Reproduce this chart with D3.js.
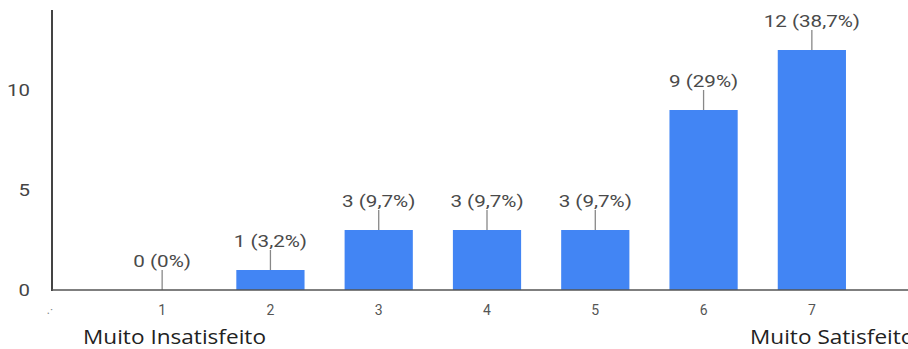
<!DOCTYPE html>
<html><head><meta charset="utf-8">
<script src="https://cdn.jsdelivr.net/npm/d3@7"></script>
<style>body{margin:0;background:#fff}svg{display:block}</style>
</head><body>
<script>
const categories = ["1","2","3","4","5","6","7"];
const counts = [0, 1, 3, 3, 3, 9, 12];
const pctLabels = ["0%","3,2%","9,7%","9,7%","9,7%","29%","38,7%"];
const yTicks = [0, 5, 10];
const endLabels = ["Muito Insatisfeito", "Muito Satisfeito"];

const W = 908, H = 349;
const svg = d3.select("body").append("svg").attr("width", W).attr("height", H);

const x = d3.scaleBand().domain(categories).range([108, 866]).paddingInner(0.37).paddingOuter(0.185);
const y = d3.scaleLinear().domain([0, 14]).range([290, 10]);

// bars
svg.selectAll("rect.bar").data(categories).enter().append("rect")
  .attr("x", d => x(d)).attr("width", x.bandwidth())
  .attr("y", (d,i) => y(counts[i])).attr("height", (d,i) => y(0) - y(counts[i]))
  .attr("fill", "#4285F4");

// leader lines
svg.selectAll("line.lead").data(categories).enter().append("line")
  .attr("x1", d => x(d) + x.bandwidth()/2).attr("x2", d => x(d) + x.bandwidth()/2)
  .attr("y1", (d,i) => y(counts[i]) - 20).attr("y2", (d,i) => y(counts[i]))
  .attr("stroke", "#888").attr("stroke-width", 1.3);

// value labels (horizontally stretched like the reference)
svg.selectAll("text.val").data(categories).enter().append("text")
  .attr("transform", (d,i) => `translate(${x(d) + x.bandwidth()/2},${y(counts[i]) - 23}) scale(1.25,1)`)
  .attr("text-anchor", "middle")
  .attr("font-family", "Roboto, Arial, sans-serif").attr("font-size", 16.5)
  .attr("fill", "#4a4a4a")
  .text((d,i) => `${counts[i]} (${pctLabels[i]})`);

// y axis
const yAxis = d3.axisLeft(y).tickValues(yTicks).tickSize(0).tickPadding(0);
const gy = svg.append("g").attr("transform", "translate(30,0)").call(yAxis);
gy.select(".domain").remove();
gy.selectAll("text").attr("font-family", "Roboto, Arial, sans-serif").attr("font-size", 17).attr("fill", "#444")
  .attr("transform", "scale(1.2,1)");
svg.append("line").attr("x1", 52).attr("x2", 52).attr("y1", 10).attr("y2", 291)
  .attr("stroke", "#444").attr("stroke-width", 2);

// x axis
const xAxis = d3.axisBottom(x).tickSize(0).tickPadding(15);
const gx = svg.append("g").attr("transform", "translate(0,290)").call(xAxis);
gx.select(".domain").remove();
gx.selectAll("text").attr("font-family", "Roboto, Arial, sans-serif").attr("font-size", 14).attr("fill", "#555");
svg.append("line").attr("x1", 52).attr("x2", 908).attr("y1", 290).attr("y2", 290)
  .attr("stroke", "#555").attr("stroke-width", 1.6);
svg.append("text").attr("x", 50).attr("y", 314).attr("font-size", 12).attr("fill", "#888")
  .attr("text-anchor", "middle").attr("font-family", "Roboto, Arial, sans-serif").text(".·");

// end labels
svg.append("text").attr("transform", "translate(83,344) scale(1.13,1)")
  .attr("font-family", "'Open Sans', 'Noto Sans', sans-serif").attr("font-size", 20).attr("fill", "#222")
  .text(endLabels[0]);
svg.append("text").attr("transform", "translate(750,344) scale(1.13,1)")
  .attr("font-family", "'Open Sans', 'Noto Sans', sans-serif").attr("font-size", 20).attr("fill", "#222")
  .text(endLabels[1]);
</script>
</body></html>
